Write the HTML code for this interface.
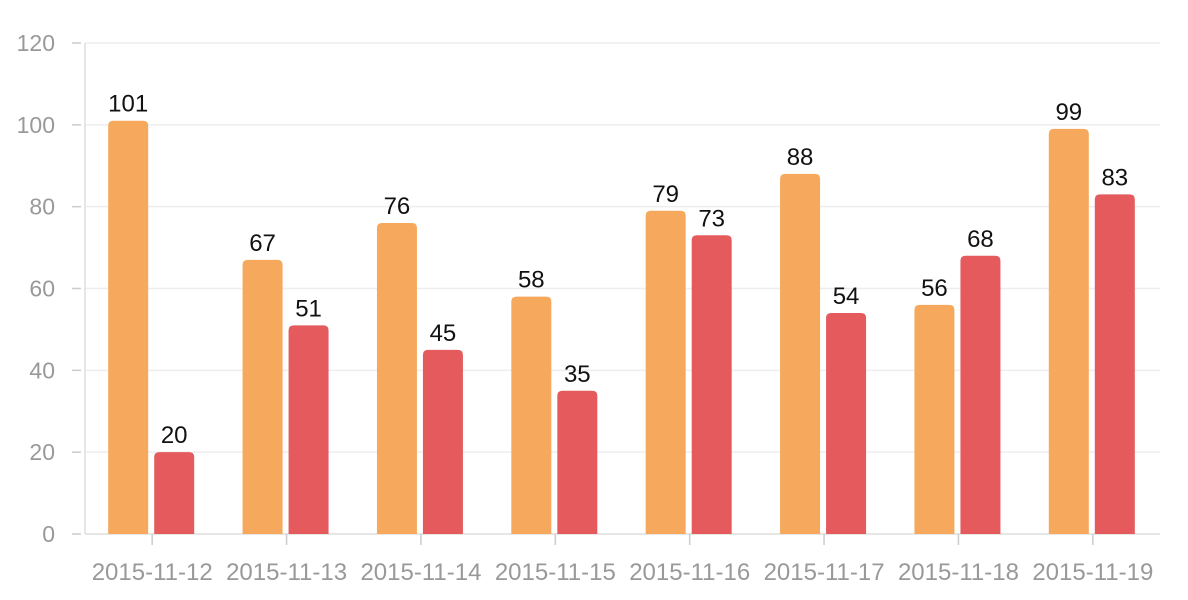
<!DOCTYPE html>
<html><head><meta charset="utf-8"><style>
body{margin:0;background:#fff;}
svg{display:block;font-family:"Liberation Sans",sans-serif;}
</style></head><body>
<svg id="chart" width="1188" height="600" viewBox="0 0 1188 600"></svg>
<script>
const categories=["2015-11-12","2015-11-13","2015-11-14","2015-11-15","2015-11-16","2015-11-17","2015-11-18","2015-11-19"];
const seriesA=[101,67,76,58,79,88,56,99];
const seriesB=[20,51,45,35,73,54,68,83];
const yTicks=[0,20,40,60,80,100,120];
const NS="http://www.w3.org/2000/svg";
const svg=document.getElementById('chart');
const x0=85,x1=1160,yBase=534,yTop=43,yMax=120;
const step=(x1-x0)/categories.length;
const yS=v=>yBase-(v/yMax)*(yBase-yTop);
const xC=i=>x0+step*(i+0.5);
function mk(tag,attrs,parent){const e=document.createElementNS(NS,tag);for(const k in attrs)e.setAttribute(k,attrs[k]);(parent||svg).appendChild(e);return e;}
yTicks.forEach(t=>{
  const y=yS(t);
  if(t>0){const g=mk('line',{x1:x0,x2:x1,y1:y,y2:y,stroke:'#eeeeee','stroke-width':1.5});
  
  }
  const tk=mk('line',{x1:72,x2:81,y1:y,y2:y,stroke:'#ccc','stroke-width':1.5});
  
  
  const tx=mk('text',{x:55,y:y+8,'text-anchor':'end','font-size':23,fill:'#999'});
  tx.textContent=t;
  
  
});
const ya=mk('line',{x1:x0,x2:x0,y1:yTop,y2:yBase,stroke:'#ddd','stroke-width':1.5});


const xa=mk('line',{x1:x0,x2:x1,y1:yBase,y2:yBase,stroke:'#ddd','stroke-width':1.5});


function bar(x,v,color,name){
  const y=yS(v);
  const p=mk('path',{d:`M${x},${yBase}V${y+5}Q${x},${y} ${x+5},${y}H${x+35}Q${x+40},${y} ${x+40},${y+5}V${yBase}Z`,fill:color});
  
  
  const t=mk('text',{x:x+20,y:y-9,'text-anchor':'middle','font-size':24,fill:'#111'});
  t.textContent=v;
  
  
}
categories.forEach((c,i)=>{
  const cx=xC(i);
  bar(cx-44,seriesA[i],'#f6a85c','bar-series-a');
  bar(cx+2,seriesB[i],'#e55b5d','bar-series-b');
  const tk=mk('line',{x1:cx,x2:cx,y1:yBase,y2:yBase+11,stroke:'#ccc','stroke-width':1.5});
  
  
  const t=mk('text',{x:cx,y:580,'text-anchor':'middle','font-size':24,fill:'#999'});
  t.textContent=c;
  
  
});
</script>
</body></html>
